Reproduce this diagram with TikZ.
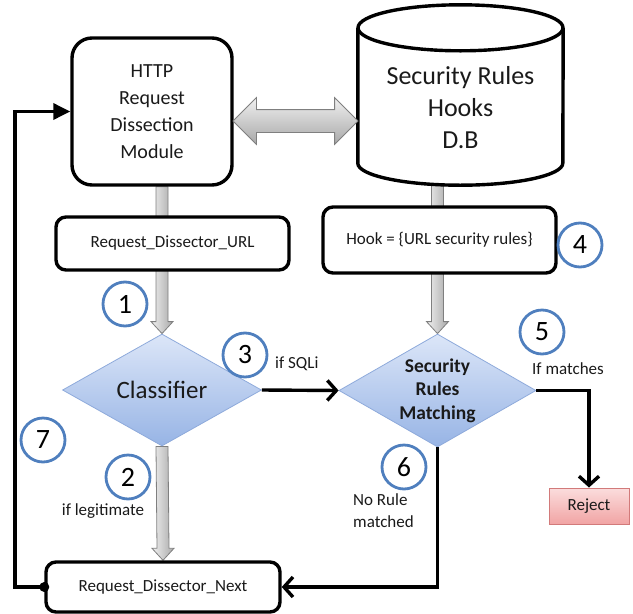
\documentclass[tikz,border=0pt]{standalone}
\usepackage{fontspec}
\setmainfont{Carlito}
\usepackage{tikz}
\usetikzlibrary{shapes,arrows.meta,positioning,calc}
\pgfdeclarelayer{background}
\pgfsetlayers{background,main}

\definecolor{stepblue}{HTML}{4F7FBE}
\definecolor{decisiontop}{HTML}{DCE6F8}
\definecolor{decisionbot}{HTML}{97B4E5}
\definecolor{decisionline}{HTML}{8EAADB}
\definecolor{rejecttop}{HTML}{FBDDDD}
\definecolor{rejectbot}{HTML}{F1A4A4}
\definecolor{rejectline}{HTML}{D27A7A}
\definecolor{pipelight}{HTML}{F0F0F0}
\definecolor{pipedark}{HTML}{A8A8A8}
\definecolor{pipeline}{HTML}{7F7F7F}
\definecolor{textgrey}{HTML}{1A1A1A}

\tikzset{
  module/.style={draw, line width=3.4pt, rounded corners=20pt, fill=white, align=center, text=textgrey, inner sep=0pt},
  infobox/.style={draw, line width=3.4pt, rounded corners=10pt, fill=white, text=textgrey, font=\fontsize{17}{20}\selectfont, inner sep=0pt},
  decision/.style={diamond, draw=decisionline, line width=0.8pt, top color=decisiontop, bottom color=decisionbot, align=center, inner sep=0pt, text=textgrey},
  stepnum/.style={circle, draw=stepblue, line width=2.8pt, minimum size=44pt, inner sep=0pt, font=\fontsize{28}{28}\selectfont, text=black},
  note/.style={text=textgrey, font=\fontsize{17}{22}\selectfont, inner sep=0pt},
  flow/.style={line width=3.4pt, -{Straight Barb[length=9pt,width=20pt]}},
  pipe/.style={draw=pipeline, line width=0.8pt, left color=pipelight, right color=pipedark},
}

% grey pipe arrow, straight down from #1 to #2
\newcommand\pipearrow[2]{%
  \path[pipe] ($(#1)+(-6,0)$) -- ($(#2)+(-6,-12)$) -- ($(#2)+(-11,-12)$) -- (#2)
    -- ($(#2)+(11,-12)$) -- ($(#2)+(6,-12)$) -- ($(#1)+(6,0)$) -- cycle;}

\begin{document}
\begin{tikzpicture}[x=1pt, y=-1pt]
    \useasboundingbox (0,0) rectangle (633,614);

    % Dissection module
    \node[module, minimum width=160pt, minimum height=147pt, font=\fontsize{20}{27}\selectfont] (http) at (152,111.5) {HTTP\\Request\\Dissection\\Module};

    % Rules database (cylinder)
    \node[minimum width=205pt, minimum height=180pt, inner sep=0pt] (db) at (460.5,95) {};
    \draw[line width=3.4pt] ($(db.north west)+(0,23)$) -- ($(db.south west)+(0,-22)$)
        arc[start angle=180, end angle=0, x radius=102.5, y radius=22] -- ($(db.north east)+(0,23)$);
    \draw[line width=3.4pt] ($(db.north)+(0,23)$) ellipse[x radius=102.5, y radius=23];
    \node[font=\fontsize{26}{32}\selectfont, align=center, text=textgrey] (dbtext) at (460.5,108) {Security Rules\\Hooks\\D.B};

    % Link between module and database
    \node[double arrow, draw=pipeline, line width=0.8pt, top color=pipelight, bottom color=pipedark,
          minimum height=125pt, minimum width=46pt, inner xsep=0pt, inner ysep=11pt,
          double arrow head extend=12pt] (link) at (295.5,121) {};

    % Boxes
    \node[infobox, minimum width=233pt, minimum height=53pt] (url) at (172.5,243.5) {Request\_Dissector\_URL};
    \node[infobox, minimum width=233pt, minimum height=66pt] (hook) at (439.5,240) {Hook = \{URL security rules\}};
    \node[infobox, minimum width=234pt, minimum height=50pt] (next) at (163,587) {Request\_Dissector\_Next};
    \node[draw=rejectline, line width=1pt, top color=rejecttop, bottom color=rejectbot, minimum width=80pt,
          minimum height=36pt, font=\fontsize{17}{20}\selectfont, text=textgrey] (reject) at (589,506) {Reject};

    % Decisions
    \node[decision, minimum width=199pt, minimum height=112pt, aspect=1.78, font=\fontsize{25}{25}\selectfont] (cls) at (162,390) {Classifier};
    \node[decision, minimum width=197pt, minimum height=113pt, aspect=1.75, font=\bfseries\fontsize{19.5}{23.5}\selectfont] (srm) at (437.5,390.5) {Security\\Rules\\Matching};

    % Grey pipes (behind the boxes)
    \begin{pgfonlayer}{background}
        \coordinate (httpout) at (http.south -| cls.north);
        \coordinate (dbout) at (db.south -| srm.north);
        \pipearrow{httpout}{cls.north}
        \pipearrow{dbout}{srm.north}
        \pipearrow{cls.south}{next.north}
    \end{pgfonlayer}

    % Flow lines
    \draw[flow] (cls.east) -- (srm.west);
    \draw[flow] (srm.east) -| (reject.north);
    \draw[flow] (srm.south) |- (next.east);
    \coordinate (back) at (15,0);
    \draw[line width=3.4pt, -{Triangle[length=17pt,width=16pt]}] (next.west) -| (back |- http.west) -- (http.west);
    \fill (next.west) circle[radius=5pt];

    % Labels
    \node[note, anchor=west] (sqli) at (275,364) {if SQLi};
    \node[note] (legit) at (103,511) {if legitimate};
    \node[note] (match) at (568,369) {If matches};
    \node[note, anchor=west, align=left] (norule) at (353,511) {No Rule\\matched};

    % Step numbers
    \foreach \n/\p in {1/{(125,304)}, 2/{(128,477)}, 3/{(245,355)}, 4/{(580,245)},
                       5/{(542,332)}, 6/{(404,467)}, 7/{(43,440)}}
        \node[stepnum] (step\n) at \p {\n};
\end{tikzpicture}
\end{document}
